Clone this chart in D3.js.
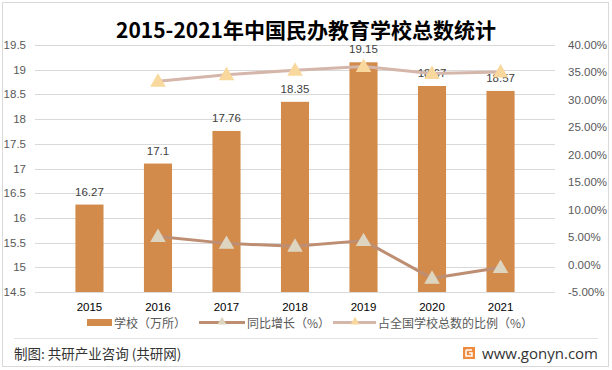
<!DOCTYPE html>
<html lang="zh">
<head>
<meta charset="utf-8">
<script src="https://cdn.jsdelivr.net/npm/d3@7"></script>
<style>
  body { margin: 0; background: #fff; }
  svg text { font-family: "Noto Sans CJK SC", "Liberation Sans", sans-serif; }
  .num { font-family: "Liberation Sans", "DejaVu Sans", sans-serif; }
</style>
</head>
<body>
<div id="chart"></div>
<script>
const years = ["2015", "2016", "2017", "2018", "2019", "2020", "2021"];
const schools = [16.27, 17.1, 17.76, 18.35, 19.15, 18.67, 18.57];
const growth = [null, 5.1, 3.86, 3.32, 4.36, -2.51, -0.54];
const share = [null, 33.4, 34.6, 35.4, 36.1, 34.8, 35.1];
const leftTicks = [14.5, 15, 15.5, 16, 16.5, 17, 17.5, 18, 18.5, 19, 19.5];
const rightTicks = [-5, 0, 5, 10, 15, 20, 25, 30, 35, 40];

const width = 612, height = 370;
const plot = { left: 35, right: 555, top: 45, bottom: 292 };

const svg = d3.select("#chart").append("svg")
  .attr("width", width).attr("height", height);

// outer frame
svg.append("rect")
  .attr("x", 2.5).attr("y", 2.5).attr("width", 606).attr("height", 364)
  .attr("fill", "#fff").attr("stroke", "#d9d9d9");

const x = d3.scaleBand().domain(years).range([plot.left, plot.right]).padding(0.59);
const yL = d3.scaleLinear().domain([14.5, 19.5]).range([plot.bottom, plot.top]);
const yR = d3.scaleLinear().domain([-5, 40]).range([plot.bottom, plot.top]);

// title
svg.append("text")
  .attr("x", 306).attr("y", 38).attr("text-anchor", "middle")
  .style("font-size", "21px").style("font-weight", "bold").attr("fill", "#000")
  .text("2015-2021年中国民办教育学校总数统计");

// gridlines
svg.append("g").selectAll("line").data(leftTicks).join("line")
  .attr("x1", plot.left).attr("x2", plot.right)
  .attr("y1", d => Math.round(yL(d)) + 0.5).attr("y2", d => Math.round(yL(d)) + 0.5)
  .attr("stroke", "#d9d9d9");

// left axis labels
svg.append("g").selectAll("text").data(leftTicks).join("text")
  .attr("class", "num")
  .attr("x", 26).attr("y", d => yL(d) + 4).attr("text-anchor", "end")
  .style("font-size", "11.5px").attr("fill", "#595959")
  .text(d => d);

// right axis labels
svg.append("g").selectAll("text").data(rightTicks).join("text")
  .attr("class", "num")
  .attr("x", 568).attr("y", d => yR(d) + 4)
  .style("font-size", "11.5px").attr("fill", "#595959")
  .text(d => d.toFixed(2) + "%");

// bars
svg.append("g").selectAll("rect").data(years).join("rect")
  .attr("x", d => x(d)).attr("width", x.bandwidth())
  .attr("y", (d, i) => yL(schools[i]))
  .attr("height", (d, i) => plot.bottom - yL(schools[i]))
  .attr("fill", "#D38B4B");

// bar value labels
svg.append("g").selectAll("text").data(years).join("text")
  .attr("class", "num")
  .attr("x", d => x(d) + x.bandwidth() / 2)
  .attr("y", (d, i) => yL(schools[i]) - 9)
  .attr("text-anchor", "middle")
  .style("font-size", "11.5px").attr("fill", "#404040")
  .text((d, i) => schools[i]);

// x labels
svg.append("g").selectAll("text").data(years).join("text")
  .attr("class", "num")
  .attr("x", d => x(d) + x.bandwidth() / 2).attr("y", 311)
  .attr("text-anchor", "middle")
  .style("font-size", "11.5px").attr("fill", "#000")
  .text(d => d);

const cx = d => x(d) + x.bandwidth() / 2;
const tri = d3.symbol().type(d3.symbolTriangle).size(105);

function drawSeries(values, lineColor, markerColor) {
  const pts = years.map((d, i) => [cx(d), values[i]]).filter(p => p[1] != null);
  svg.append("path")
    .attr("d", d3.line().x(p => p[0]).y(p => yR(p[1]))(pts))
    .attr("fill", "none").attr("stroke", lineColor).attr("stroke-width", 3)
    .attr("stroke-linejoin", "round");
  svg.append("g").selectAll("path").data(pts).join("path")
    .attr("d", tri)
    .attr("transform", p => `translate(${p[0]},${yR(p[1]) + 1})`)
    .attr("fill", markerColor);
}
drawSeries(growth, "#BE8E73", "#DDD5C0");
drawSeries(share, "#D5B6AB", "#F8D89C");

// legend
const lg = svg.append("g");
lg.append("rect").attr("x", 87).attr("y", 319).attr("width", 25).attr("height", 7).attr("fill", "#D38B4B");
lg.append("text").attr("x", 114).attr("y", 327.5).style("font-size", "12px").attr("fill", "#595959").text("学校（万所）");

lg.append("line").attr("x1", 199).attr("x2", 245).attr("y1", 322.5).attr("y2", 322.5)
  .attr("stroke", "#BE8E73").attr("stroke-width", 3);
lg.append("path").attr("d", d3.symbol().type(d3.symbolTriangle).size(35)).attr("transform", "translate(222,322)").attr("fill", "#DDD5C0");
lg.append("text").attr("x", 247).attr("y", 327.5).style("font-size", "12px").attr("fill", "#595959").text("同比增长（%）");

lg.append("line").attr("x1", 333).attr("x2", 376).attr("y1", 322.5).attr("y2", 322.5)
  .attr("stroke", "#D5B6AB").attr("stroke-width", 3);
lg.append("path").attr("d", d3.symbol().type(d3.symbolTriangle).size(35)).attr("transform", "translate(355,322)").attr("fill", "#F8D89C");
lg.append("text").attr("x", 378).attr("y", 327.5).style("font-size", "12px").attr("fill", "#595959").text("占全国学校总数的比例（%）");

// footer
svg.append("line").attr("x1", 14).attr("x2", 598).attr("y1", 338.5).attr("y2", 338.5).attr("stroke", "#e3e3e3");
svg.append("text").attr("x", 14).attr("y", 359).style("font-size", "13.5px").attr("fill", "#333")
  .text("制图: 共研产业咨询 (共研网)");
svg.append("rect").attr("x", 463).attr("y", 347).attr("width", 12).attr("height", 12).attr("fill", "#F08A3C");
svg.append("path").attr("d", "M466,350 h6 M466,350 v6 h6 v-3 h-3").attr("stroke", "#fff").attr("stroke-width", 1.5).attr("fill", "none");
svg.append("text").attr("x", 598).attr("y", 359).attr("text-anchor", "end")
  .style("font-size", "15px").attr("fill", "#333").style("font-family", "'Open Sans', sans-serif")
  .text("www.gonyn.com");
</script>
</body>
</html>
